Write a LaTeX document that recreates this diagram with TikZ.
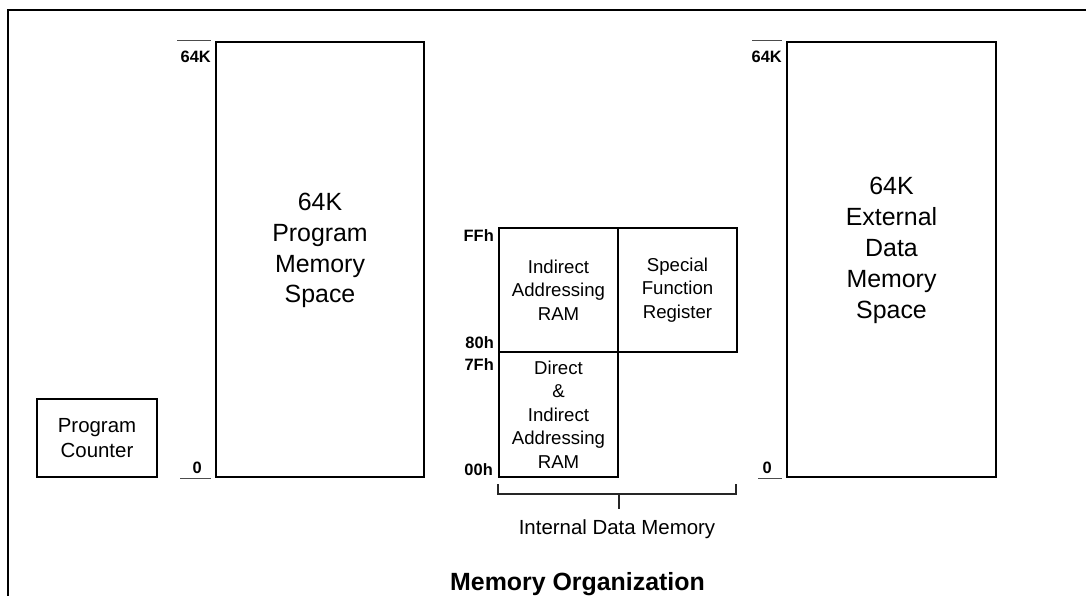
\documentclass[tikz,border=0pt]{standalone}
\usepackage{fontspec}
\setmainfont{Liberation Sans}
\usetikzlibrary{positioning,calc}
\newcommand{\memfont}{\fontsize{25}{31}\selectfont}
\newcommand{\pcfont}{\fontsize{20.5}{25}\selectfont}
\newcommand{\cellfont}{\fontsize{18.7}{23.5}\selectfont}
\newcommand{\addrfont}{\fontsize{16.5}{18}\selectfont\bfseries}
\newcommand{\headfont}{\fontsize{25}{28}\selectfont\bfseries}
\tikzstyle{memory} = [draw, line width=2bp, inner sep=0pt, minimum width=208bp, minimum height=435bp]
\tikzstyle{memtext} = [align=center, inner sep=0pt, font=\memfont]
\tikzstyle{cell} = [draw, line width=2bp, inner sep=0pt, align=center, font=\cellfont, minimum width=119bp, minimum height=124bp]
\tikzstyle{addr} = [inner sep=0pt, font=\addrfont]
\tikzstyle{tick} = [line width=1bp, black!70]
\tikzstyle{brace} = [line width=1.3bp, black!85]

\begin{document}
\begin{tikzpicture}[x=1bp, y=-1bp]
\useasboundingbox (0,0) rectangle (1086,596);
\draw[line width=2.3bp] (8,596) -- (8,10) -- (1086,10);
% program memory
\node[memory] (prog) at (320,259.5) {};
\node[memtext] (progtxt) at ($(prog)+(0,-9)$) {64K\\Program\\Memory\\Space};
\node[draw, line width=2bp, inner sep=0pt, align=center, font=\pcfont, minimum width=120bp, minimum height=78bp] (pc) at (97,438) {Program\\Counter};
\node[addr, anchor=base east] (ptop) at (211,63) {64K};
\node[addr, anchor=base east] (pzero) at (202,473) {0};
\draw[tick] (ptop.east |- prog.north) -- ++(-34,0);
\draw[tick] (ptop.east |- prog.south) -- ++(-31,0);
% internal data memory
\node[cell] (ind) at (558.5,290) {Indirect\\Addressing\\RAM};
\node[cell] (sfr) at (677.5,290) {Special\\Function\\Register};
\node[cell, minimum height=125bp] (dir) at (558.5,414.5) {Direct\\\&\\Indirect\\Addressing\\RAM};
\node[addr, anchor=base east] (aff) at (494,242) {FFh};
\node[addr, anchor=base east] (a80) at (494,348) {80h};
\node[addr, anchor=base east] (a7f) at (494,370) {7Fh};
\node[addr, anchor=base east] (a00) at (493,475) {00h};
\draw[brace] (dir.south west) ++(0,6) -- ++(0,10) -- ++(238,0) -- ++(0,-10);
\draw[brace] (dir.south east) ++(0,16) -- ++(0,15);
\node[font=\pcfont, anchor=base, inner sep=0pt] (idm) at (617,534) {Internal Data Memory};
% external data memory
\node[memory, minimum width=209bp] (ext) at (891.5,259.5) {};
\node[memtext] (exttxt) at ($(ext)+(0,-9)$) {64K\\External\\Data\\Memory\\Space};
\node[addr, anchor=base east] (etop) at (782,63) {64K};
\node[addr, anchor=base east] (ezero) at (772,473) {0};
\draw[tick] (etop.east |- ext.north) -- ++(-30,0);
\draw[tick] (etop.east |- ext.south) -- ++(-24,0);
\node[font=\headfont, anchor=base, inner sep=0pt] (title) at (577.5,590) {Memory Organization};
\end{tikzpicture}
\end{document}
